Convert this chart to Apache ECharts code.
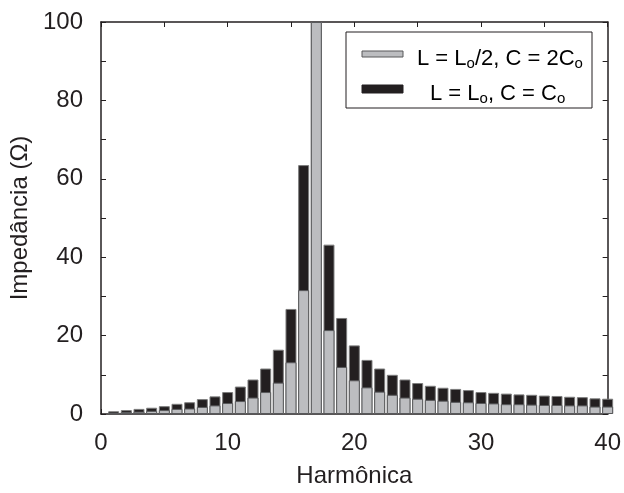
<!DOCTYPE html>
<html>
<head>
<meta charset="utf-8">
<script src="https://cdn.jsdelivr.net/npm/echarts@6/dist/echarts.min.js"></script>
<style>
  html, body { margin: 0; padding: 0; background: #fff; }
  #chart { width: 624px; height: 493px; }
</style>
</head>
<body>
<div id="chart"></div>
<script>
// Harmonic order (x positions of the bars)
const harmonics = [1, 2, 3, 4, 5, 6, 7, 8, 9, 10,
  11, 12, 13, 14, 15, 16, 17, 18, 19, 20,
  21, 22, 23, 24, 25, 26, 27, 28, 29, 30,
  31, 32, 33, 34, 35, 36, 37, 38, 39, 40];

// Impedance (Ω) for L = Lo, C = Co
const zNominal = [0.7, 1.0, 1.3, 1.6, 2.0, 2.6, 3.0, 3.8, 4.5, 5.6,
  7.0, 8.8, 11.6, 16.4, 26.8, 63.5, 100, 43.2, 24.5, 17.5,
  13.8, 11.6, 10.0, 8.8, 7.9, 7.2, 6.7, 6.4, 6.1, 5.6,
  5.4, 5.2, 5.0, 4.9, 4.7, 4.6, 4.4, 4.3, 4.0, 3.9];

// Impedance (Ω) for L = Lo/2, C = 2Co
const zHalfL = [0.3, 0.5, 0.6, 0.8, 1.0, 1.3, 1.4, 1.8, 2.2, 2.8,
  3.3, 4.2, 5.6, 8.0, 13.2, 31.6, 100, 21.4, 12.0, 8.6,
  6.8, 5.7, 4.9, 4.2, 3.9, 3.6, 3.4, 3.1, 3.0, 2.8,
  2.7, 2.5, 2.5, 2.4, 2.3, 2.3, 2.2, 2.2, 1.9, 1.9];

// Legend captions (rich-text markup: n = normal, s = subscript)
const seriesLabels = [
  '{n|L = L}{s|o}{n|/2, C = 2C}{s|o}',
  '{n|L = L}{s|o}{n|, C = C}{s|o}'
];

const xTicks = { min: 0, max: 40, step: 5, labelEvery: 10 };
const yTicks = { min: 0, max: 100, step: 10, labelEvery: 20 };

const FONT = 'Liberation Sans, Arial, Helvetica, sans-serif';
const INK = '#231f20';
const GREY = '#bcbdc0';
const GREY_EDGE = '#58595b';

const toPairs = (xs, ys) => xs.map((x, i) => [x, ys[i]]);

const axisLine = { show: true, onZero: false, lineStyle: { color: INK, width: 1.5 } };
const tickIn = { show: true, inside: true, length: 5, lineStyle: { color: INK, width: 1 } };

const legendRich = {
  n: { fontFamily: FONT, fontSize: 22, color: INK, lineHeight: 26, verticalAlign: 'middle' },
  s: { fontFamily: FONT, fontSize: 15, color: INK, lineHeight: 15, verticalAlign: 'bottom' }
};

const chart = echarts.init(document.getElementById('chart'), null, { renderer: 'canvas' });

chart.setOption({
  animation: false,
  backgroundColor: '#ffffff',
  grid: { left: 101, right: 12, top: 22, bottom: 78, containLabel: false },
  // boxed key drawn as graphic elements
  graphic: [{
    type: 'group',
    z: 10,
    children: [{
      type: 'rect',
      shape: { x: 346, y: 32, width: 246, height: 76 },
      style: { fill: '#ffffff', stroke: INK, lineWidth: 1 }
    }, {
      type: 'rect',
      shape: { x: 362, y: 51, width: 41, height: 6 },
      style: { fill: GREY, stroke: GREY_EDGE, lineWidth: 1 }
    }, {
      type: 'rect',
      shape: { x: 362, y: 85, width: 41, height: 8 },
      style: { fill: INK, stroke: INK, lineWidth: 1 }
    }, {
      type: 'text',
      style: {
        x: 417, y: 58.5, text: seriesLabels[0],
        align: 'left', verticalAlign: 'middle', rich: legendRich
      }
    }, {
      type: 'text',
      style: {
        x: 430, y: 93.5, text: seriesLabels[1],
        align: 'left', verticalAlign: 'middle', rich: legendRich
      }
    }]
  }],
  xAxis: [{
    type: 'value',
    min: xTicks.min, max: xTicks.max, interval: xTicks.step,
    name: 'Harmônica',
    nameLocation: 'middle',
    nameGap: 50,
    nameTextStyle: { fontFamily: FONT, fontSize: 24, color: INK },
    axisLine: axisLine,
    axisTick: tickIn,
    splitLine: { show: false },
    axisLabel: {
      margin: 17,
      fontFamily: FONT, fontSize: 24, color: INK,
      formatter: v => (v % xTicks.labelEvery === 0 ? String(v) : '')
    }
  }, {
    type: 'value', position: 'top',
    min: xTicks.min, max: xTicks.max, interval: xTicks.step,
    axisLine: axisLine, axisTick: tickIn,
    axisLabel: { show: false }, splitLine: { show: false }
  }],
  yAxis: [{
    type: 'value',
    min: yTicks.min, max: yTicks.max, interval: yTicks.step,
    name: 'Impedância (Ω)',
    nameLocation: 'middle',
    nameGap: 68,
    nameTextStyle: { fontFamily: FONT, fontSize: 24, color: INK },
    axisLine: axisLine,
    axisTick: tickIn,
    splitLine: { show: false },
    axisLabel: {
      margin: 18,
      fontFamily: FONT, fontSize: 24, color: INK,
      formatter: v => (v % yTicks.labelEvery === 0 ? String(v) : '')
    }
  }, {
    type: 'value', position: 'right',
    min: yTicks.min, max: yTicks.max, interval: yTicks.step,
    axisLine: axisLine, axisTick: tickIn,
    axisLabel: { show: false }, splitLine: { show: false }
  }],
  series: [{
    name: 'nominal',
    type: 'bar',
    xAxisIndex: 0, yAxisIndex: 0,
    barWidth: 11,
    barGap: '-100%',
    data: toPairs(harmonics, zNominal),
    itemStyle: { color: INK, borderColor: '#7d7d7d', borderWidth: 1 },
    z: 2
  }, {
    name: 'half',
    type: 'bar',
    xAxisIndex: 0, yAxisIndex: 0,
    barWidth: 11,
    barGap: '-100%',
    data: toPairs(harmonics, zHalfL),
    itemStyle: { color: GREY, borderColor: GREY_EDGE, borderWidth: 1 },
    z: 3
  }]
});
</script>
</body>
</html>
